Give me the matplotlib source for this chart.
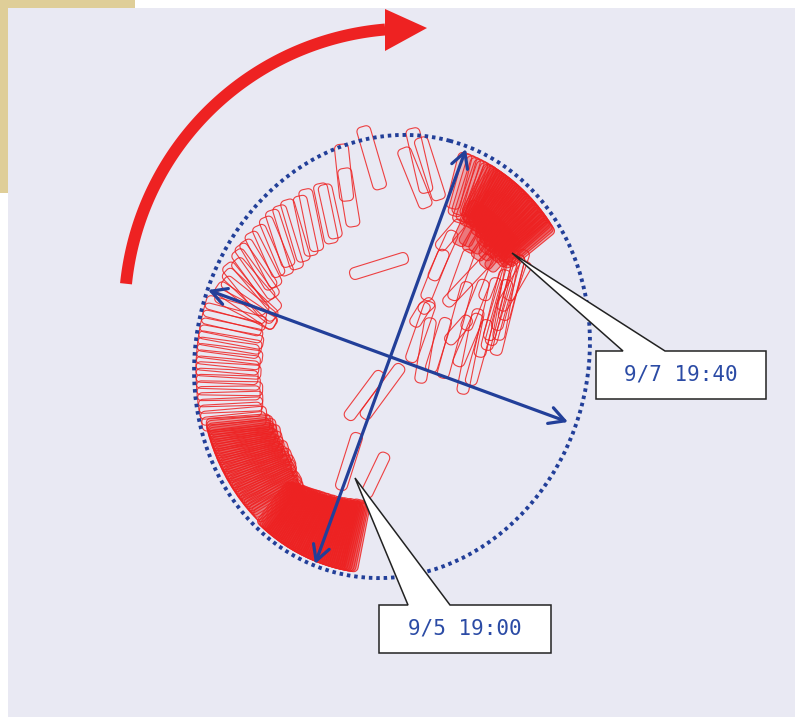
import numpy as np
import matplotlib

matplotlib.use("Agg")

import matplotlib.pyplot as plt
from matplotlib.collections import PolyCollection
from matplotlib.colors import to_rgba
from matplotlib.patches import Ellipse, FancyArrowPatch, Polygon, Rectangle


# ---- echo ring geometry (picture pixels, y down) ----
CENTER = (392.0, 356.5)
ELL_HALF_W = 196.0
ELL_HALF_H = 223.3
ELL_TILT = 15.0

# ring echoes: azimuth (deg), outer position (fraction of ring), length (px), tilt from radial (deg)
a_theta = [39.2, 39.9, 40.5, 41.3, 41.8, 42.6, 43.1, 43.9, 44.4, 45.2, 45.7, 46.5,
           47.0, 47.8, 48.4, 49.1, 49.6, 50.4, 51.0, 51.7, 52.3, 52.9, 53.6, 54.2,
           54.8, 55.5, 56.1, 56.8, 57.3, 58.0, 58.7, 59.3, 60.0, 60.6, 61.3, 62.0]
a_len = [58, 63, 60, 66, 61, 57, 64, 68, 62, 59, 65, 70, 63, 60, 67, 72, 64, 61,
         66, 69, 63, 58, 65, 62, 60, 66, 59, 63, 57, 61, 64, 58, 62, 56, 60, 55]

a3_theta = [43.5, 46.0, 48.5, 51.0, 53.5, 56.0, 58.5, 61.0]
a3_len = [42, 45, 40, 46, 43, 47, 44, 48]

a2_theta = [62.6, 63.4, 64.5, 65.3, 66.4, 67.5, 68.7, 70.0]
a2_len = [62, 66, 58, 64, 67, 60, 63, 57]

b_theta = [82.7, 85.0, 87.0, 97.3]
b_k = [0.99, 1.03, 0.94, 1.06]
b_len = [65, 66, 64, 65]
b_tilt = [25, 18, 25, 9]

d_theta = [103.5, 104.3, 111.5, 112.7]
d_k = [1.01, 0.90, 0.87, 0.885]
d_len = [57, 59, 55, 61]
d_tilt = [-7.5, -5, -9, -11]

e_theta = [117.5, 120.0, 124.0, 127.0, 129.6, 132.5, 135.8, 139.0, 142.0, 144.0,
           146.0, 148.5, 151.0, 153.0, 155.5, 158.0, 160.5]
e_k = [0.90, 0.89, 0.915, 0.92, 0.93, 0.93, 0.93, 0.94, 0.94, 0.95,
       0.95, 0.93, 0.96, 0.95, 0.94, 0.96, 0.95]
e_len = [63, 61, 64, 66, 59, 62, 55, 60, 55, 63, 60, 66, 62, 68, 64, 70, 66]
e_tilt = [-16, -18, -17.6, -20, -21.6, -20, -22, -22, -21, -19, -20, -18, -22, -16, -14, -12, -8]

f_theta = [163.5, 165.8, 168.0, 170.4, 172.5, 174.3, 176.2, 178.1, 180.0, 181.8,
           183.5, 185.4, 187.2, 189.1, 190.8, 192.6, 194.5, 196.2, 198.0, 199.7]
f_len = [62, 64, 61, 63, 65, 64, 62, 66, 64, 63, 65, 62, 64, 66, 63, 65, 64, 62, 66, 64]
f_tilt = [1, 0, -1, -2, -3, -4, -4, -5, -6, -7, -7, -8, -9, -10, -10, -11, -12, -13, -13, -14]

g_theta = [200.4, 201.1, 201.9, 202.6, 203.2, 204.0, 204.7, 205.5, 206.1, 206.9,
           207.6, 208.3, 209.1, 209.8, 210.4, 211.2, 212.0, 212.7, 213.3, 214.1,
           214.9, 215.6, 216.2, 217.0, 217.8, 218.5, 219.1, 219.9, 220.7, 221.4,
           222.0, 222.8, 223.6, 224.3, 225.0, 225.8, 226.5, 227.3, 228.1, 229.0, 229.8]
g_len = [64, 66, 62, 68, 65, 63, 67, 70, 64, 66, 62, 69, 65, 63, 68, 66, 64, 70, 65, 62,
         67, 64, 69, 66, 63, 65, 68, 62, 66, 64, 60, 63, 58, 61, 59, 62, 57, 60, 56, 58, 55]

h_theta = [232.4, 232.9, 233.5, 234.1, 234.6, 235.1, 235.7, 236.3, 236.8, 237.3,
           237.9, 238.5, 239.0, 239.6, 240.1, 240.7, 241.3, 241.8, 242.3, 242.9,
           243.5, 244.0, 244.5, 245.1, 245.7, 246.2, 246.8, 247.4, 247.9, 248.4,
           249.0, 249.6, 250.1, 250.6, 251.2, 251.8, 252.3, 252.9, 253.4, 254.0,
           254.6, 255.1, 255.6, 256.2, 256.8, 257.3, 257.9, 258.4, 259.0]
h_len = [52, 54, 55, 53, 57, 56, 58, 55, 59, 60, 58, 61, 60, 62, 59, 63, 61, 64, 62, 65,
         63, 62, 66, 64, 63, 67, 65, 66, 64, 68, 66, 67, 65, 69, 67, 68, 66, 70, 68, 69,
         67, 71, 69, 70, 68, 72, 70, 71, 69]

# inner trail echoes: end-to-end segments (px)
in_x0 = [350, 432, 438, 410, 420, 442, 445, 457, 462, 479, 486, 490, 496, 483,
         347, 363, 340, 365, 420, 447, 413, 503, 508, 498,
         452, 425, 465, 470, 430, 495, 488, 500]
in_y0 = [275, 280, 249, 362, 383, 378, 305, 366, 394, 357, 350, 345, 330, 300,
         419, 418, 490, 497, 312, 343, 326, 320, 300, 340,
         300, 300, 330, 385, 372, 355, 340, 310]
in_x1 = [408, 454, 462, 431, 431, 468, 491, 479, 479, 497, 506, 508, 515, 500,
         382, 402, 358, 386, 433, 470, 427, 520, 525, 512,
         470, 445, 485, 488, 447, 520, 515, 528]
in_y1 = [257, 231, 221, 302, 318, 282, 256, 314, 309, 278, 270, 280, 258, 256,
         372, 365, 433, 453, 300, 317, 303, 255, 250, 262,
         250, 250, 280, 320, 318, 255, 250, 262]

# rotation arrow (arc) and axes arrows
ARC_CENTER = (409.0, 313.0)
ARC_RADIUS = 284.5
ARC_FROM, ARC_TO = 174.1, 94.8
ARC_HEAD = [(385, 9), (427, 28), (385, 51)]
axis_arrows = [((208, 290), (568, 422)), ((466, 149), (315, 564))]

# callouts: box (x0, y0, x1, y1), pointer base x's, tip, label
callout_labels = ["9/7 19:40", "9/5 19:00"]
callout_boxes = [(596, 351, 766, 399), (379, 605, 551, 653)]
callout_bases = [(623, 665), (408, 450)]
callout_tips = [(512, 253), (355, 478)]

RED = "#EE2222"
BLUE = "#223F99"


def ellipse_radius(theta):
    t = np.radians(theta)
    a = np.radians(ELL_TILT)
    d = np.array([np.cos(t), -np.sin(t)])
    e1 = np.array([np.cos(a), np.sin(a)])
    e2 = np.array([-np.sin(a), np.cos(a)])
    return 1.0 / np.sqrt((d @ e1 / ELL_HALF_W) ** 2 + (d @ e2 / ELL_HALF_H) ** 2)


def ring_segment(theta, k, length, tilt):
    r = k * ellipse_radius(theta)
    t = np.radians(theta)
    outer = np.array([CENTER[0] + r * np.cos(t), CENTER[1] - r * np.sin(t)])
    h = np.radians(theta + 180 + tilt)
    inner = outer + length * np.array([np.cos(h), -np.sin(h)])
    return outer, inner


def capsule_outline(p0, p1, w, rad):
    p0 = np.asarray(p0, float)
    p1 = np.asarray(p1, float)
    L = np.hypot(*(p1 - p0))
    u = (p1 - p0) / L
    n = np.array([-u[1], u[0]])
    hw = w / 2
    rad = min(rad, hw, L / 2)
    corners = [((L - rad, -hw + rad), -90, 0), ((L - rad, hw - rad), 0, 90),
               ((rad, hw - rad), 90, 180), ((rad, -hw + rad), 180, 270)]
    pts = []
    for (cs, ct), a0, a1 in corners:
        ang = np.radians(np.linspace(a0, a1, 6))
        for s, q in zip(cs + rad * np.cos(ang), ct + rad * np.sin(ang)):
            pts.append(p0 + s * u + q * n)
    return np.array(pts)


fig = plt.figure(figsize=(7.95, 7.17), dpi=100)
fig.patch.set_facecolor("white")
ax = fig.add_axes([0, 0, 1, 1])
ax.set_xlim(0, 795)
ax.set_ylim(717, 0)
ax.axis("off")

ax.add_patch(Rectangle((0, 0), 135, 193, facecolor="#DFCE98", edgecolor="none"))
ax.add_patch(Rectangle((8, 8), 787, 709, facecolor="#E9E9F3", edgecolor="none"))

# ring echoes: (azimuths, outer fraction, lengths, tilt, fill opacity)
groups = [
    (a_theta, 0.97, a_len, 0, 0.34),
    (a3_theta, 0.80, a3_len, 4, 0.34),
    (a2_theta, 0.97, a2_len, 6, 0.12),
    (b_theta, b_k, b_len, b_tilt, 0.0),
    (d_theta, d_k, d_len, d_tilt, 0.0),
    (e_theta, e_k, e_len, e_tilt, 0.0),
    (f_theta, 0.99, f_len, f_tilt, 0.0),
    (g_theta, 0.97, g_len, -16, 0.2),
    (h_theta, 0.98, h_len, 0, 0.34),
]
shapes, fills = [], []
for th, k, ln, tl, fa in groups:
    th, k, ln, tl = np.broadcast_arrays(np.asarray(th, float), k, ln, tl)
    for t_, k_, l_, tl_ in zip(th, k, ln, tl):
        p0, p1 = ring_segment(t_, k_, l_, tl_)
        shapes.append(capsule_outline(p0, p1, 14, 4.5))
        fills.append(to_rgba(RED, fa))
for x0, y0, x1, y1 in zip(in_x0, in_y0, in_x1, in_y1):
    shapes.append(capsule_outline((x0, y0), (x1, y1), 12, 5))
    fills.append(to_rgba(RED, 0.0))

ax.add_collection(PolyCollection(shapes, closed=True, facecolors=fills,
                                 edgecolors=to_rgba(RED, 0.85), linewidths=0.8))

# dotted ring
ax.add_patch(Ellipse(CENTER, 2 * ELL_HALF_W, 2 * ELL_HALF_H, angle=ELL_TILT,
                     fill=False, edgecolor=BLUE, linewidth=2.8,
                     linestyle=(0, (0.9, 1.0))))

# axes of the echo
for start, end in axis_arrows:
    ax.add_patch(FancyArrowPatch(start, end, arrowstyle="<->,head_length=0.55,head_width=0.3",
                                 mutation_scale=20, color=BLUE, linewidth=2.3,
                                 shrinkA=0, shrinkB=0))

# rotation arrow
ang = np.radians(np.linspace(ARC_FROM, ARC_TO, 120))
ax.plot(ARC_CENTER[0] + ARC_RADIUS * np.cos(ang), ARC_CENTER[1] - ARC_RADIUS * np.sin(ang),
        color=RED, linewidth=8.6, solid_capstyle="butt")
ax.add_patch(Polygon(ARC_HEAD, closed=True, facecolor=RED, edgecolor="none"))

# callouts
for label, (bx0, by0, bx1, by1), (wl, wr), tip in zip(callout_labels, callout_boxes,
                                                      callout_bases, callout_tips):
    outline = [(bx0, by0), (wl, by0), tip, (wr, by0), (bx1, by0), (bx1, by1), (bx0, by1)]
    ax.add_patch(Polygon(outline, closed=True, facecolor="white", edgecolor="#222222",
                         linewidth=1.1, joinstyle="miter"))
    ax.text((bx0 + bx1) / 2, (by0 + by1) / 2, label, ha="center", va="center",
            fontsize=15, color="#2B4BA5", family=["DejaVu Sans Mono", "DejaVu Sans"])

fig.savefig("out.png", dpi=100, facecolor=fig.get_facecolor())
